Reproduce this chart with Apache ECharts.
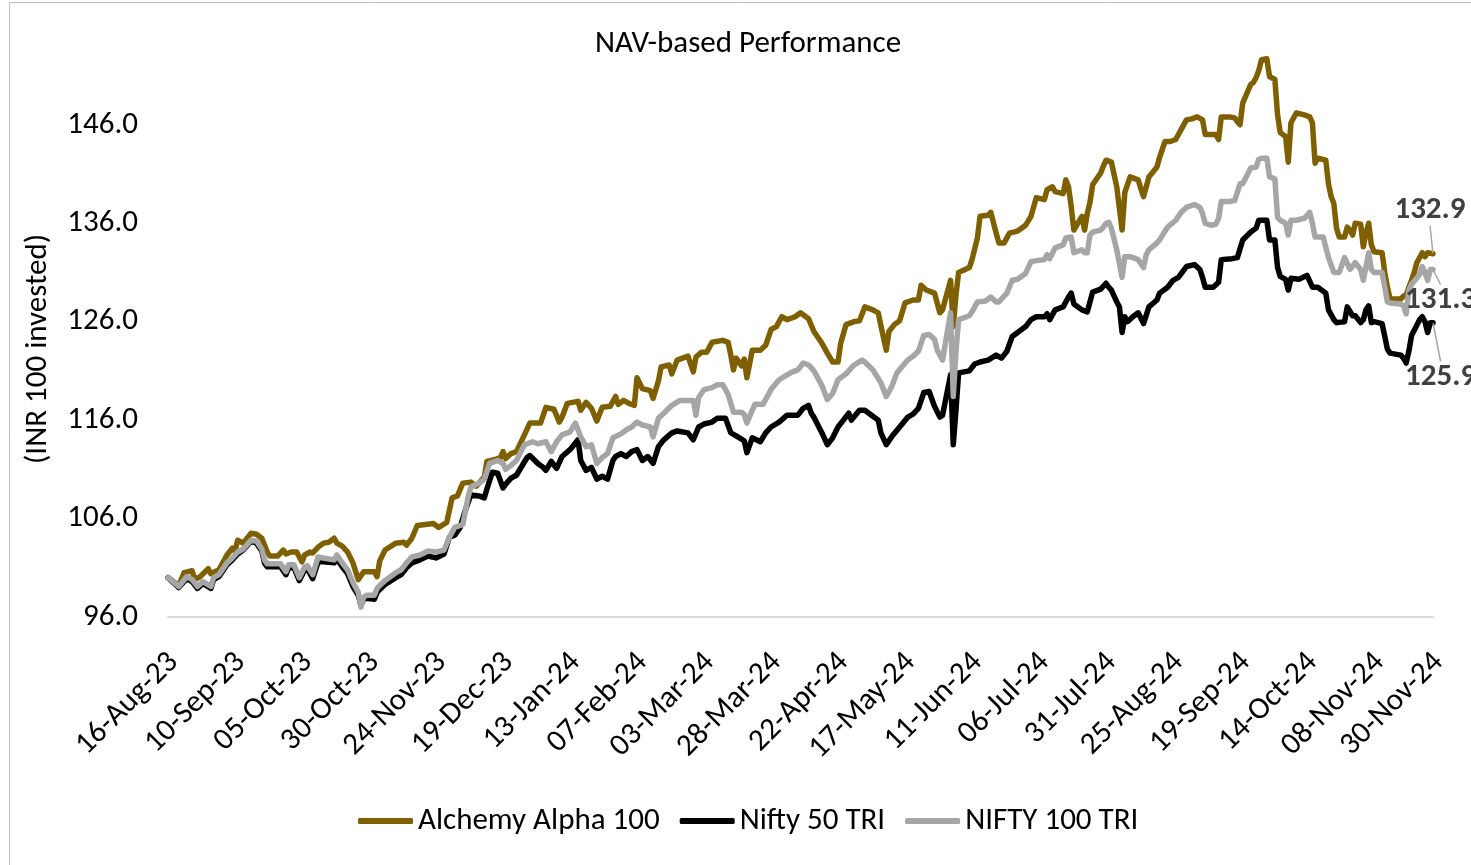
<!DOCTYPE html>
<html><head><meta charset="utf-8">
<script src="https://cdn.jsdelivr.net/npm/echarts@6/dist/echarts.min.js"></script>
<style>html,body{margin:0;padding:0;background:#fff}#chart{width:1471px;height:865px}</style>
</head><body><div id="chart"></div>
<script>
const chartTitle = 'NAV-based Performance';
const yAxisTitle = '(INR 100 invested)';
const seriesNames = ['Alchemy Alpha 100', 'Nifty 50 TRI', 'NIFTY 100 TRI'];
const seriesColors = ['#7F6000', '#000000', '#A6A6A6'];
const startDate = '2023-08-16';
const endDate = '2024-11-30';
const tickStepDays = 25;
const yMin = 96, yMax = 154, yStep = 10;

const alchemy = [['2023-08-16',100.0],['2023-08-20',99.2],['2023-08-22',100.5],['2023-08-25',100.7],['2023-08-26',99.8],['2023-08-28',100.1],['2023-08-31',100.9],['2023-09-01',100.4],['2023-09-04',100.8],['2023-09-07',102.3],['2023-09-09',103.0],['2023-09-10',102.7],['2023-09-11',103.8],['2023-09-13',103.5],['2023-09-16',104.5],['2023-09-18',104.4],['2023-09-20',104.0],['2023-09-22',102.6],['2023-09-23',102.2],['2023-09-26',102.2],['2023-09-28',102.8],['2023-09-29',102.4],['2023-10-01',102.6],['2023-10-03',102.6],['2023-10-05',101.6],['2023-10-06',102.3],['2023-10-08',102.6],['2023-10-09',102.5],['2023-10-11',103.1],['2023-10-13',103.5],['2023-10-15',103.6],['2023-10-17',104.0],['2023-10-18',103.5],['2023-10-20',103.2],['2023-10-22',102.6],['2023-10-24',101.5],['2023-10-26',99.8],['2023-10-28',100.6],['2023-11-01',100.6],['2023-11-02',100.1],['2023-11-03',101.7],['2023-11-05',102.8],['2023-11-09',103.5],['2023-11-12',103.6],['2023-11-13',103.3],['2023-11-15',104.0],['2023-11-17',105.3],['2023-11-23',105.5],['2023-11-25',105.1],['2023-11-28',105.6],['2023-11-30',108.1],['2023-12-02',108.3],['2023-12-04',109.6],['2023-12-07',109.7],['2023-12-09',109.3],['2023-12-12',110.2],['2023-12-13',111.8],['2023-12-16',112.0],['2023-12-18',112.2],['2023-12-19',112.8],['2023-12-20',112.1],['2023-12-22',112.6],['2023-12-24',112.8],['2023-12-27',114.5],['2023-12-29',115.7],['2024-01-02',115.7],['2024-01-04',117.3],['2024-01-07',117.1],['2024-01-09',115.8],['2024-01-10',116.3],['2024-01-12',117.7],['2024-01-16',117.9],['2024-01-17',117.0],['2024-01-19',117.8],['2024-01-21',117.2],['2024-01-23',115.9],['2024-01-25',117.3],['2024-01-28',117.4],['2024-01-30',118.4],['2024-01-31',117.6],['2024-02-02',118.0],['2024-02-04',117.7],['2024-02-06',117.5],['2024-02-07',120.3],['2024-02-09',119.2],['2024-02-12',119.0],['2024-02-13',118.2],['2024-02-15',120.0],['2024-02-16',121.4],['2024-02-19',121.6],['2024-02-20',120.7],['2024-02-22',122.1],['2024-02-24',122.3],['2024-02-26',122.5],['2024-02-28',120.9],['2024-02-29',122.4],['2024-03-02',122.9],['2024-03-04',122.9],['2024-03-06',123.9],['2024-03-10',124.1],['2024-03-12',123.9],['2024-03-13',122.6],['2024-03-14',121.1],['2024-03-15',122.3],['2024-03-17',121.5],['2024-03-18',122.2],['2024-03-19',120.3],['2024-03-21',123.1],['2024-03-24',123.1],['2024-03-26',123.6],['2024-03-28',125.2],['2024-03-30',125.5],['2024-04-01',126.5],['2024-04-03',126.2],['2024-04-06',126.5],['2024-04-08',126.9],['2024-04-11',126.3],['2024-04-13',125.0],['2024-04-16',123.8],['2024-04-18',122.8],['2024-04-20',121.9],['2024-04-22',121.9],['2024-04-23',123.8],['2024-04-25',125.7],['2024-04-28',126.0],['2024-04-30',126.1],['2024-05-02',127.5],['2024-05-05',127.2],['2024-05-07',126.9],['2024-05-08',125.6],['2024-05-10',123.1],['2024-05-11',125.0],['2024-05-13',125.7],['2024-05-15',126.1],['2024-05-17',127.9],['2024-05-20',128.2],['2024-05-22',128.2],['2024-05-23',129.7],['2024-05-25',129.2],['2024-05-28',128.9],['2024-05-29',127.9],['2024-05-30',126.9],['2024-05-31',127.2],['2024-06-03',130.2],['2024-06-04',125.5],['2024-06-05',128.7],['2024-06-06',131.0],['2024-06-10',131.5],['2024-06-11',132.3],['2024-06-13',134.5],['2024-06-14',136.7],['2024-06-17',136.8],['2024-06-18',137.1],['2024-06-20',135.0],['2024-06-21',134.0],['2024-06-23',134.0],['2024-06-25',135.0],['2024-06-28',135.2],['2024-07-01',135.8],['2024-07-03',136.7],['2024-07-05',138.6],['2024-07-08',138.4],['2024-07-09',139.4],['2024-07-11',139.7],['2024-07-12',139.2],['2024-07-15',139.0],['2024-07-16',140.4],['2024-07-17',139.7],['2024-07-18',137.7],['2024-07-19',135.3],['2024-07-22',136.7],['2024-07-23',135.3],['2024-07-24',137.0],['2024-07-25',138.1],['2024-07-26',139.9],['2024-07-29',141.1],['2024-07-30',141.8],['2024-07-31',142.4],['2024-08-01',142.3],['2024-08-02',142.2],['2024-08-04',139.7],['2024-08-06',135.3],['2024-08-07',139.1],['2024-08-09',140.7],['2024-08-12',140.4],['2024-08-13',139.5],['2024-08-14',138.7],['2024-08-16',140.7],['2024-08-19',141.7],['2024-08-20',142.7],['2024-08-22',144.3],['2024-08-24',144.3],['2024-08-26',144.5],['2024-08-28',145.5],['2024-08-30',146.5],['2024-09-01',146.6],['2024-09-03',146.8],['2024-09-05',146.5],['2024-09-06',145.0],['2024-09-08',145.0],['2024-09-10',145.0],['2024-09-11',144.5],['2024-09-12',146.8],['2024-09-15',146.8],['2024-09-17',146.7],['2024-09-18',146.3],['2024-09-19',146.0],['2024-09-20',148.2],['2024-09-23',150.1],['2024-09-24',150.3],['2024-09-25',150.8],['2024-09-26',151.5],['2024-09-27',152.6],['2024-09-29',152.7],['2024-09-30',150.9],['2024-10-02',150.6],['2024-10-03',147.0],['2024-10-04',145.2],['2024-10-06',144.8],['2024-10-07',142.2],['2024-10-08',146.2],['2024-10-10',147.2],['2024-10-13',147.0],['2024-10-15',146.8],['2024-10-16',146.2],['2024-10-17',142.1],['2024-10-18',142.6],['2024-10-21',142.4],['2024-10-22',140.0],['2024-10-23',138.7],['2024-10-24',138.0],['2024-10-25',135.5],['2024-10-26',134.6],['2024-10-28',134.6],['2024-10-29',135.6],['2024-10-30',135.3],['2024-10-31',134.8],['2024-11-01',136.0],['2024-11-03',135.9],['2024-11-04',133.6],['2024-11-05',135.0],['2024-11-06',136.0],['2024-11-07',133.8],['2024-11-08',133.1],['2024-11-11',133.0],['2024-11-12',131.0],['2024-11-13',129.5],['2024-11-14',128.3],['2024-11-18',128.3],['2024-11-19',128.6],['2024-11-20',128.7],['2024-11-21',129.5],['2024-11-22',130.2],['2024-11-23',131.0],['2024-11-24',132.0],['2024-11-25',132.5],['2024-11-26',133.0],['2024-11-27',132.6],['2024-11-28',133.0],['2024-11-30',132.9]];

const nifty50 = [['2023-08-16',100.0],['2023-08-20',99.0],['2023-08-23',99.9],['2023-08-25',99.6],['2023-08-27',98.9],['2023-08-29',99.4],['2023-09-01',98.9],['2023-09-02',99.8],['2023-09-04',100.1],['2023-09-07',101.3],['2023-09-09',101.8],['2023-09-11',102.4],['2023-09-13',102.8],['2023-09-16',103.7],['2023-09-18',103.5],['2023-09-20',102.7],['2023-09-21',101.5],['2023-09-22',101.1],['2023-09-27',101.1],['2023-09-29',100.3],['2023-09-30',101.0],['2023-10-02',101.0],['2023-10-04',99.7],['2023-10-06',100.8],['2023-10-07',100.9],['2023-10-09',99.9],['2023-10-11',101.6],['2023-10-13',101.6],['2023-10-17',101.5],['2023-10-18',101.9],['2023-10-20',101.1],['2023-10-22',100.4],['2023-10-24',99.1],['2023-10-26',98.2],['2023-10-27',97.2],['2023-10-28',97.8],['2023-10-29',97.9],['2023-11-01',97.8],['2023-11-02',98.5],['2023-11-03',98.8],['2023-11-05',99.3],['2023-11-09',100.0],['2023-11-11',100.3],['2023-11-13',101.0],['2023-11-15',101.5],['2023-11-18',101.8],['2023-11-21',102.2],['2023-11-24',102.0],['2023-11-27',102.4],['2023-11-29',104.1],['2023-12-01',104.3],['2023-12-03',105.1],['2023-12-05',106.9],['2023-12-07',108.4],['2023-12-10',108.3],['2023-12-12',108.1],['2023-12-13',109.0],['2023-12-15',110.7],['2023-12-17',110.6],['2023-12-19',109.1],['2023-12-20',109.5],['2023-12-22',110.1],['2023-12-24',110.4],['2023-12-28',112.2],['2023-12-29',112.4],['2024-01-01',111.6],['2024-01-03',111.2],['2024-01-04',110.9],['2024-01-06',111.8],['2024-01-08',111.1],['2024-01-10',112.3],['2024-01-13',113.0],['2024-01-16',114.0],['2024-01-17',111.9],['2024-01-19',110.9],['2024-01-21',111.2],['2024-01-23',110.0],['2024-01-25',110.3],['2024-01-27',110.0],['2024-01-29',111.9],['2024-01-30',112.3],['2024-02-01',112.6],['2024-02-03',112.3],['2024-02-05',112.8],['2024-02-07',113.0],['2024-02-09',111.9],['2024-02-11',112.3],['2024-02-13',111.6],['2024-02-15',113.3],['2024-02-17',114.0],['2024-02-20',114.7],['2024-02-22',114.9],['2024-02-26',114.7],['2024-02-28',114.0],['2024-03-01',115.3],['2024-03-03',115.6],['2024-03-06',115.8],['2024-03-08',116.2],['2024-03-11',116.2],['2024-03-13',114.7],['2024-03-15',114.4],['2024-03-18',113.9],['2024-03-19',112.7],['2024-03-21',114.2],['2024-03-24',113.8],['2024-03-26',114.7],['2024-03-28',115.3],['2024-03-31',115.8],['2024-04-03',116.5],['2024-04-07',116.5],['2024-04-09',117.2],['2024-04-11',117.5],['2024-04-12',116.7],['2024-04-13',116.3],['2024-04-16',114.7],['2024-04-18',113.5],['2024-04-20',114.2],['2024-04-22',115.3],['2024-04-24',116.0],['2024-04-26',116.7],['2024-04-27',116.0],['2024-04-30',117.0],['2024-05-02',117.0],['2024-05-05',116.4],['2024-05-07',116.0],['2024-05-08',114.7],['2024-05-10',113.5],['2024-05-12',114.3],['2024-05-15',115.3],['2024-05-18',116.3],['2024-05-20',116.6],['2024-05-22',117.2],['2024-05-24',118.8],['2024-05-26',118.9],['2024-05-28',117.4],['2024-05-30',116.3],['2024-05-31',116.5],['2024-06-03',120.6],['2024-06-04',113.5],['2024-06-05',117.0],['2024-06-06',120.8],['2024-06-10',121.0],['2024-06-12',121.7],['2024-06-14',121.9],['2024-06-17',122.1],['2024-06-20',122.6],['2024-06-22',122.3],['2024-06-24',123.0],['2024-06-26',124.5],['2024-06-28',124.9],['2024-07-01',125.5],['2024-07-03',126.2],['2024-07-05',126.5],['2024-07-08',126.5],['2024-07-09',126.8],['2024-07-10',126.2],['2024-07-12',127.2],['2024-07-15',127.5],['2024-07-17',128.5],['2024-07-18',128.9],['2024-07-19',127.8],['2024-07-22',127.2],['2024-07-24',127.0],['2024-07-25',128.0],['2024-07-26',129.0],['2024-07-29',129.3],['2024-07-31',129.9],['2024-08-01',129.5],['2024-08-02',129.2],['2024-08-04',128.0],['2024-08-05',127.5],['2024-08-06',124.9],['2024-08-07',126.5],['2024-08-08',126.0],['2024-08-10',126.5],['2024-08-12',126.9],['2024-08-14',125.8],['2024-08-16',127.5],['2024-08-19',128.2],['2024-08-20',128.9],['2024-08-23',129.5],['2024-08-25',130.2],['2024-08-27',130.5],['2024-08-30',131.6],['2024-09-02',131.8],['2024-09-04',131.3],['2024-09-05',130.5],['2024-09-06',129.5],['2024-09-09',129.5],['2024-09-11',130.0],['2024-09-12',132.3],['2024-09-16',132.4],['2024-09-18',132.5],['2024-09-20',134.3],['2024-09-23',135.1],['2024-09-25',135.5],['2024-09-26',136.3],['2024-09-29',136.3],['2024-09-30',134.3],['2024-10-02',134.3],['2024-10-03',131.5],['2024-10-04',130.6],['2024-10-06',130.3],['2024-10-07',129.2],['2024-10-08',130.4],['2024-10-11',130.3],['2024-10-14',130.7],['2024-10-16',129.5],['2024-10-18',129.5],['2024-10-21',128.9],['2024-10-22',127.2],['2024-10-24',126.2],['2024-10-25',125.9],['2024-10-28',126.0],['2024-10-29',127.5],['2024-10-31',126.6],['2024-11-01',126.6],['2024-11-03',125.9],['2024-11-04',126.2],['2024-11-05',127.2],['2024-11-06',127.6],['2024-11-07',125.9],['2024-11-08',126.0],['2024-11-11',125.8],['2024-11-12',124.5],['2024-11-13',123.2],['2024-11-14',122.8],['2024-11-18',122.6],['2024-11-19',122.3],['2024-11-20',121.8],['2024-11-21',123.0],['2024-11-22',124.6],['2024-11-25',126.2],['2024-11-26',126.5],['2024-11-27',126.0],['2024-11-28',124.9],['2024-11-29',125.9],['2024-11-30',125.9]];

const nifty100 = [['2023-08-16',100.0],['2023-08-20',99.1],['2023-08-23',100.1],['2023-08-25',99.8],['2023-08-27',99.1],['2023-08-29',99.6],['2023-09-01',99.1],['2023-09-02',100.0],['2023-09-04',100.3],['2023-09-07',101.5],['2023-09-09',102.0],['2023-09-11',102.6],['2023-09-13',102.9],['2023-09-16',103.8],['2023-09-18',103.7],['2023-09-20',102.9],['2023-09-21',101.8],['2023-09-22',101.4],['2023-09-27',101.4],['2023-09-29',100.6],['2023-09-30',101.3],['2023-10-02',101.3],['2023-10-04',100.0],['2023-10-06',101.1],['2023-10-07',101.2],['2023-10-09',100.3],['2023-10-11',102.1],['2023-10-13',102.0],['2023-10-17',101.8],['2023-10-18',102.3],['2023-10-20',101.5],['2023-10-22',100.8],['2023-10-24',99.5],['2023-10-26',98.5],['2023-10-27',97.0],['2023-10-28',98.0],['2023-10-29',98.2],['2023-11-01',98.2],['2023-11-02',98.9],['2023-11-03',99.2],['2023-11-05',99.7],['2023-11-09',100.5],['2023-11-11',100.8],['2023-11-13',101.5],['2023-11-15',102.1],['2023-11-18',102.3],['2023-11-21',102.7],['2023-11-24',102.6],['2023-11-27',102.8],['2023-11-29',104.1],['2023-12-01',105.1],['2023-12-04',105.4],['2023-12-06',108.2],['2023-12-07',109.2],['2023-12-10',109.6],['2023-12-12',110.0],['2023-12-14',111.6],['2023-12-17',111.9],['2023-12-19',111.6],['2023-12-20',111.0],['2023-12-22',111.4],['2023-12-24',111.9],['2023-12-27',113.5],['2023-12-30',113.8],['2024-01-01',113.6],['2024-01-04',113.8],['2024-01-06',112.8],['2024-01-08',113.8],['2024-01-10',114.5],['2024-01-13',114.8],['2024-01-15',115.7],['2024-01-17',114.3],['2024-01-19',113.3],['2024-01-21',113.5],['2024-01-23',111.6],['2024-01-25',112.2],['2024-01-27',112.6],['2024-01-29',114.2],['2024-02-01',114.6],['2024-02-03',115.0],['2024-02-05',115.3],['2024-02-07',115.8],['2024-02-09',115.5],['2024-02-12',115.3],['2024-02-13',114.3],['2024-02-15',116.2],['2024-02-17',116.7],['2024-02-20',117.5],['2024-02-23',118.0],['2024-02-26',118.0],['2024-02-28',118.0],['2024-02-29',116.5],['2024-03-01',118.3],['2024-03-03',119.1],['2024-03-06',119.3],['2024-03-08',119.6],['2024-03-10',119.6],['2024-03-12',118.6],['2024-03-14',116.8],['2024-03-17',116.8],['2024-03-18',116.6],['2024-03-19',115.7],['2024-03-21',117.0],['2024-03-22',117.6],['2024-03-25',117.6],['2024-03-28',119.1],['2024-03-31',120.1],['2024-04-03',120.6],['2024-04-05',120.9],['2024-04-07',121.1],['2024-04-09',121.8],['2024-04-11',121.6],['2024-04-13',121.0],['2024-04-16',119.5],['2024-04-18',118.1],['2024-04-20',118.7],['2024-04-22',120.1],['2024-04-25',120.7],['2024-04-26',121.0],['2024-04-28',121.6],['2024-05-01',122.1],['2024-05-02',121.9],['2024-05-05',121.1],['2024-05-08',119.8],['2024-05-10',118.4],['2024-05-12',119.4],['2024-05-14',120.8],['2024-05-18',122.1],['2024-05-20',122.5],['2024-05-22',123.0],['2024-05-24',124.6],['2024-05-26',124.7],['2024-05-28',124.2],['2024-05-29',123.1],['2024-05-31',122.1],['2024-06-03',126.9],['2024-06-04',118.4],['2024-06-05',123.0],['2024-06-06',126.2],['2024-06-10',126.6],['2024-06-11',127.0],['2024-06-13',128.0],['2024-06-16',128.1],['2024-06-18',128.5],['2024-06-20',128.0],['2024-06-21',128.0],['2024-06-24',128.9],['2024-06-26',130.2],['2024-06-28',130.3],['2024-07-01',130.9],['2024-07-03',132.1],['2024-07-05',132.2],['2024-07-08',132.3],['2024-07-09',132.8],['2024-07-10',132.4],['2024-07-12',133.5],['2024-07-15',133.8],['2024-07-16',134.5],['2024-07-18',134.6],['2024-07-19',133.0],['2024-07-22',133.3],['2024-07-23',133.0],['2024-07-24',133.0],['2024-07-25',134.8],['2024-07-26',135.1],['2024-07-29',135.3],['2024-07-30',135.6],['2024-07-31',136.0],['2024-08-01',136.1],['2024-08-02',135.5],['2024-08-04',133.3],['2024-08-06',130.5],['2024-08-07',132.6],['2024-08-09',132.6],['2024-08-12',132.3],['2024-08-14',131.5],['2024-08-15',132.8],['2024-08-16',133.3],['2024-08-19',134.0],['2024-08-20',134.3],['2024-08-22',135.2],['2024-08-23',135.6],['2024-08-26',136.3],['2024-08-28',137.1],['2024-08-30',137.6],['2024-09-02',137.9],['2024-09-04',137.6],['2024-09-05',137.0],['2024-09-06',136.0],['2024-09-08',135.8],['2024-09-10',135.9],['2024-09-11',136.5],['2024-09-12',138.2],['2024-09-15',138.2],['2024-09-17',138.3],['2024-09-19',140.0],['2024-09-20',140.0],['2024-09-23',141.6],['2024-09-25',141.7],['2024-09-26',142.5],['2024-09-27',142.6],['2024-09-29',142.6],['2024-09-30',140.7],['2024-10-02',140.5],['2024-10-03',136.6],['2024-10-04',136.3],['2024-10-06',136.0],['2024-10-07',134.8],['2024-10-08',136.3],['2024-10-10',136.3],['2024-10-13',136.5],['2024-10-15',137.1],['2024-10-16',136.0],['2024-10-17',134.6],['2024-10-20',134.6],['2024-10-22',132.5],['2024-10-24',131.0],['2024-10-26',131.0],['2024-10-28',132.5],['2024-10-30',131.3],['2024-11-01',132.0],['2024-11-03',131.3],['2024-11-04',130.2],['2024-11-06',133.0],['2024-11-07',131.3],['2024-11-08',131.0],['2024-11-11',131.0],['2024-11-12',129.5],['2024-11-13',128.0],['2024-11-14',127.9],['2024-11-18',127.8],['2024-11-19',127.6],['2024-11-20',126.8],['2024-11-21',129.2],['2024-11-22',129.8],['2024-11-25',130.8],['2024-11-26',131.6],['2024-11-27',131.0],['2024-11-28',130.2],['2024-11-29',131.3],['2024-11-30',131.3]];

const FONT = 'Carlito, Lato, "Liberation Sans", sans-serif';
const FS = 31;
const MONTHS = ['Jan','Feb','Mar','Apr','May','Jun','Jul','Aug','Sep','Oct','Nov','Dec'];
function toUTC(s){const p=s.split('-').map(Number);return Date.UTC(p[0],p[1]-1,p[2]);}
const START = toUTC(startDate);
function dayOf(s){return Math.round((toUTC(s)-START)/86400000);}
function fmtDay(day){const dt=new Date(START+day*86400000);return String(dt.getUTCDate()).padStart(2,'0')+'-'+MONTHS[dt.getUTCMonth()]+'-'+String(dt.getUTCFullYear()).slice(2);}

const labelPlacement = [
  {x:1430, y:210, align:'center', verticalAlign:'middle'},
  {x:1405, y:377, align:'left', verticalAlign:'middle'},
  {x:1405, y:300, align:'left', verticalAlign:'middle'}
];

function buildData(arr){
  return arr.map((p,i)=>{
    const item = {value:[dayOf(p[0]), p[1]]};
    if(i===arr.length-1){
      item.label = {show:true, formatter: p[1].toFixed(1), fontFamily:FONT, fontSize:FS, fontWeight:'bold', color:'#404040'};
    }
    return item;
  });
}
const allSeries = [alchemy, nifty50, nifty100];

const chart = echarts.init(document.getElementById('chart'), null, {renderer:'canvas'});
chart.setOption({
  animation:false,
  backgroundColor:'#ffffff',
  title:{text:chartTitle, left:748, top:29, padding:0, textAlign:'center',
    textStyle:{fontFamily:FONT, fontSize:FS, fontWeight:'normal', color:'#000'}},
  legend:{data:seriesNames.map((n,i)=>({name:n, itemStyle:{color:seriesColors[i], opacity:1}})),
    left:358, top:805, padding:0, itemWidth:55, itemHeight:6, itemGap:20,
    icon:'roundRect', textStyle:{fontFamily:FONT, fontSize:FS, color:'#000', lineHeight:32}},
  grid:{left:168, right:38, top:46, bottom:248, containLabel:false},
  xAxis:{type:'value', min:0, max:dayOf(endDate), interval:tickStepDays,
    axisLine:{show:true, lineStyle:{color:'#d9d9d9', width:2}},
    axisTick:{show:false}, splitLine:{show:false},
    axisLabel:{rotate:45, margin:35, verticalAlign:'top', lineHeight:16, showMaxLabel:true, formatter:v=>fmtDay(v), fontFamily:FONT, fontSize:FS, color:'#000'}},
  yAxis:{type:'value', min:yMin, max:yMax, interval:yStep,
    axisLine:{show:false}, axisTick:{show:false}, splitLine:{show:false},
    axisLabel:{showMaxLabel:false, margin:30, formatter:v=>v.toFixed(1), fontFamily:FONT, fontSize:FS, color:'#000'}},
  graphic:[
    {type:'rect', shape:{x:9.5, y:2.5, width:1500, height:900}, style:{fill:null, stroke:'#bfbfbf', lineWidth:1}, silent:true, z:-10},
    {type:'text', x:38, y:349, rotation:Math.PI/2, style:{text:yAxisTitle, fontFamily:FONT, fontSize:FS, fill:'#000', align:'center', verticalAlign:'middle'}}
  ],
  series: allSeries.map((arr,i)=>({
    name:seriesNames[i], type:'line', data:buildData(arr),
    symbol:'circle', symbolSize:1, showSymbol:true, showAllSymbol:true,
    color:seriesColors[i], clip:false,
    lineStyle:{color:seriesColors[i], width:5.5, cap:'round', join:'round'},
    itemStyle:{color:seriesColors[i]},
    label:{show:false},
    labelLayout: labelPlacement[i],
    labelLine:{show:true, lineStyle:{color:'#a6a6a6', width:1.5}},
    z: 2+i
  }))
});
</script></body></html>
